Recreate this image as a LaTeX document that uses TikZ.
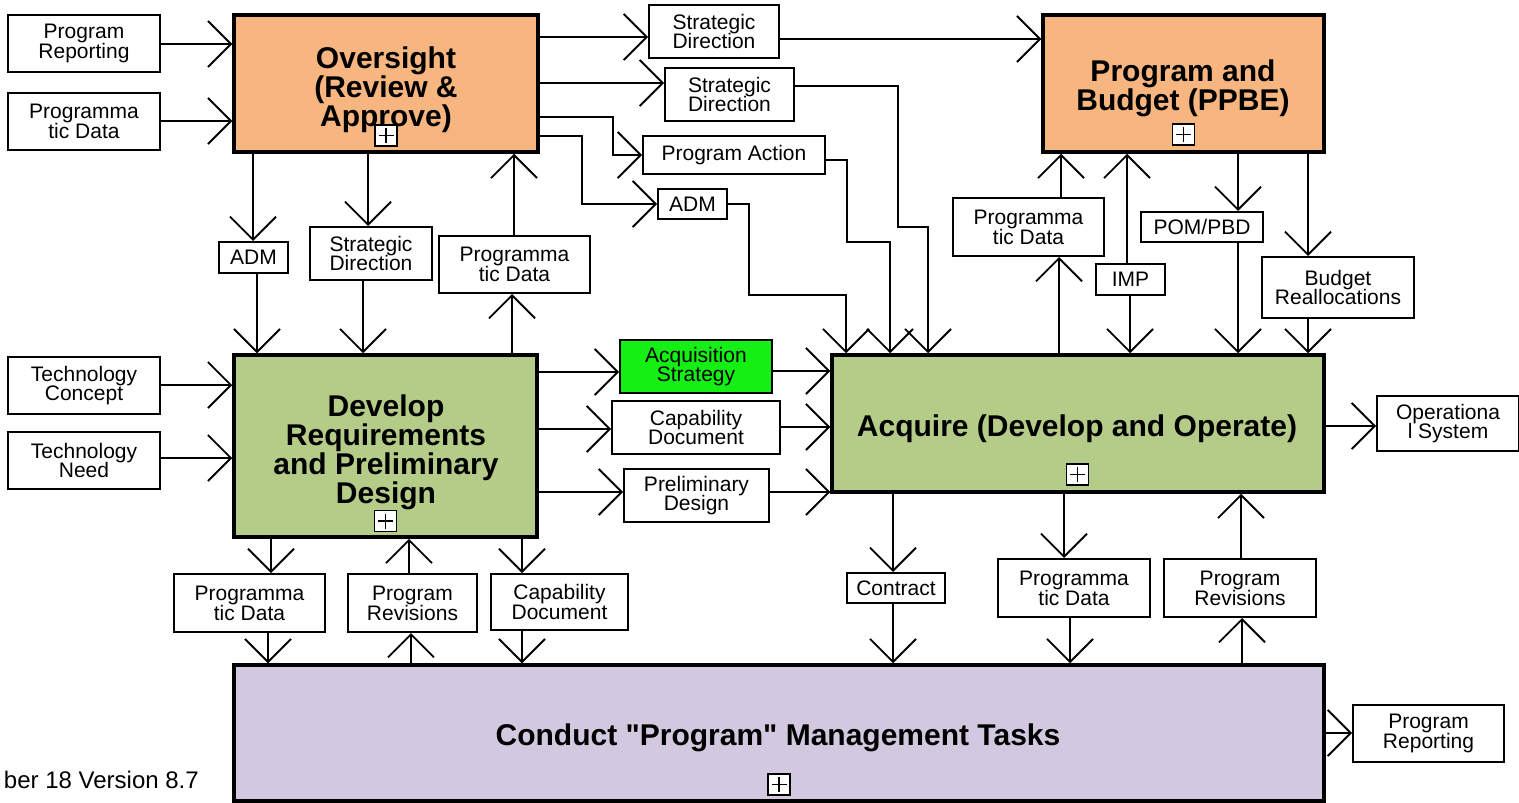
\documentclass[tikz,border=0pt]{standalone}
\usepackage{fontspec}
\setmainfont{Liberation Sans}[Ligatures=TeXOff]
\usetikzlibrary{arrows.meta}
\definecolor{ovc}{RGB}{247,182,128}
\definecolor{devc}{RGB}{181,204,136}
\definecolor{conc}{RGB}{210,201,224}
\definecolor{asc}{RGB}{20,240,20}
\begin{document}
\begin{tikzpicture}[x=1pt,y=-1pt,
  box/.style={draw,line width=2pt,fill=white,inner sep=0pt,align=center,font=\fontsize{21}{19.8}\selectfont},
  mainbox/.style={draw,line width=3.5pt,inner sep=0pt},
  ttl/.style={align=center,font=\fontsize{30}{27}\selectfont\bfseries,inner sep=0pt},
  arr/.style={line width=1.8pt,-{Straight Barb[length=23pt,width=46pt]}},
  plusbox/.style={draw,line width=1.5pt,fill=white,minimum width=22pt,minimum height=21pt,inner sep=0pt,
    path picture={\draw[line width=1.5pt] ([xshift=-7.5pt]path picture bounding box.center) -- ([xshift=7.5pt]path picture bounding box.center);
      \draw[line width=1.5pt] ([yshift=-7.5pt]path picture bounding box.center) -- ([yshift=7.5pt]path picture bounding box.center);}}]
\useasboundingbox (0,0) rectangle (1519,803);

% main boxes
\node[mainbox,fill=ovc,minimum width=304pt,minimum height=137pt] (ov) at (386,83.5) {};
\node[mainbox,fill=ovc,minimum width=281pt,minimum height=137pt] (ppbe) at (1183.5,83.5) {};
\node[mainbox,fill=devc,minimum width=303pt,minimum height=182pt] (dev) at (385.5,446) {};
\node[mainbox,fill=devc,minimum width=492pt,minimum height=137pt] (acq) at (1078,423.5) {};
\node[mainbox,fill=conc,minimum width=1090pt,minimum height=136pt] (cond) at (779,733) {};

\node[ttl] (ovt) at (386,90) {Oversight\\(Review \&\\Approve)};
\node[ttl] (ppbet) at (1183,88) {Program and\\Budget (PPBE)};
\node[ttl] (devt) at (386,452) {Develop\\Requirements\\and Preliminary\\Design};
\node[ttl] (acqt) at (1077,429) {Acquire (Develop and Operate)};
\node[ttl] (condt) at (778,738) {Conduct "Program" Management Tasks};

\node[plusbox] (p1) at (386,135.5) {};
\node[plusbox] (p2) at (1183.5,134.5) {};
\node[plusbox] (p3) at (385.5,521) {};
\node[plusbox] (p4) at (1077.5,474.5) {};
\node[plusbox] (p5) at (779,784.5) {};

% small boxes
\node[box,minimum width=152pt,minimum height=57pt] (pr1) at (84,43.5) {Program\\Reporting};
\node[box,minimum width=152pt,minimum height=57pt] (pd1) at (84,121.5) {Programma\\tic Data};
\node[box,minimum width=130pt,minimum height=53pt] (sd1) at (714,31.5) {Strategic\\Direction};
\node[box,minimum width=129pt,minimum height=53pt] (sd2) at (729.5,94.5) {Strategic\\Direction};
\node[box,minimum width=182pt,minimum height=38pt] (pa) at (734,155) {Program Action};
\node[box,minimum width=69pt,minimum height=30pt] (adm1) at (692.5,204) {ADM};
\node[box,minimum width=69pt,minimum height=31pt] (adm2) at (253.5,257.5) {ADM};
\node[box,minimum width=122pt,minimum height=53pt] (sd3) at (371,253.5) {Strategic\\Direction};
\node[box,minimum width=151pt,minimum height=57pt] (pd2) at (514.5,264.5) {Programma\\tic Data};
\node[box,minimum width=151pt,minimum height=58pt] (pd3) at (1028.5,227) {Programma\\tic Data};
\node[box,minimum width=69pt,minimum height=31pt] (imp) at (1130.5,279.5) {IMP};
\node[box,minimum width=122pt,minimum height=30pt] (pom) at (1202,227) {POM/PBD};
\node[box,minimum width=152pt,minimum height=61pt] (bra) at (1338,287.5) {Budget\\Reallocations};
\node[box,minimum width=152pt,minimum height=57pt] (tc) at (84,385.5) {Technology\\Concept};
\node[box,minimum width=152pt,minimum height=57pt] (tn) at (84,460.5) {Technology\\Need};
\node[box,fill=asc,minimum width=152pt,minimum height=53pt] (as) at (696,366.5) {Acquisition\\Strategy};
\node[box,minimum width=168pt,minimum height=53pt] (cd1) at (696,427.5) {Capability\\Document};
\node[box,minimum width=145pt,minimum height=53pt] (pdes) at (696.5,495.5) {Preliminary\\Design};
\node[box,minimum width=142pt,minimum height=55pt] (os) at (1448,423.5) {Operationa\\l System};
\node[box,minimum width=151pt,minimum height=58pt] (pd4) at (249.5,603) {Programma\\tic Data};
\node[box,minimum width=129pt,minimum height=58pt] (rev1) at (412.5,603) {Program\\Revisions};
\node[box,minimum width=137pt,minimum height=56pt] (cd2) at (559.5,602) {Capability\\Document};
\node[box,minimum width=98pt,minimum height=30pt] (con) at (896,588) {Contract};
\node[box,minimum width=152pt,minimum height=58pt] (pd5) at (1074,588) {Programma\\tic Data};
\node[box,minimum width=152pt,minimum height=58pt] (rev2) at (1240,588) {Program\\Revisions};
\node[box,minimum width=151pt,minimum height=57pt] (pr2) at (1428.5,733.5) {Program\\Reporting};

\node[anchor=base east,inner sep=0pt,font=\fontsize{24}{24}\selectfont] (foot) at (199,788) {ber 18 Version 8.7};

% connectors
\draw[arr] (pr1.east |- 0,44) -- (ov.west |- 0,44);
\draw[arr] (pd1.east |- 0,121) -- (ov.west |- 0,121);
\draw[arr] (ov.east |- 0,37) -- (sd1.west |- 0,37);
\draw[arr] (sd1.east |- 0,39) -- (ppbe.west |- 0,39);
\draw[arr] (ov.east |- 0,83) -- (sd2.west |- 0,83);
\draw[arr] (sd2.east |- 0,86) -- (898,86) -- (898,227) -- (928,227) -- (acq.north -| 928,0);
\draw[arr] (ov.east |- 0,117) -- (613,117) -- (613,155) -- (pa.west);
\draw[arr] (pa.east |- 0,160) -- (847,160) -- (847,242) -- (890,242) -- (acq.north -| 890,0);
\draw[arr] (ov.east |- 0,136) -- (582,136) -- (582,204) -- (adm1.west);
\draw[arr] (adm1.east) -- (749,204) -- (749,295) -- (846,295) -- (acq.north -| 846,0);

\draw[arr] (ov.south -| 253,0) -- (adm2.north -| 253,0);
\draw[arr] (adm2.south -| 257,0) -- (dev.north -| 257,0);
\draw[arr] (ov.south -| 368,0) -- (sd3.north -| 368,0);
\draw[arr] (sd3.south -| 363,0) -- (dev.north -| 363,0);
\draw[arr] (dev.north -| 512,0) -- (pd2.south -| 512,0);
\draw[arr] (pd2.north -| 514,0) -- (ov.south -| 514,0);

\draw[arr] (tc.east |- 0,385) -- (dev.west |- 0,385);
\draw[arr] (tn.east |- 0,458) -- (dev.west |- 0,458);

\draw[arr] (dev.east |- 0,372) -- (as.west |- 0,372);
\draw[arr] (as.east |- 0,371) -- (acq.west |- 0,371);
\draw[arr] (dev.east |- 0,429) -- (cd1.west |- 0,429);
\draw[arr] (cd1.east |- 0,427) -- (acq.west |- 0,427);
\draw[arr] (dev.east |- 0,492) -- (pdes.west |- 0,492);
\draw[arr] (pdes.east |- 0,492) -- (acq.west |- 0,492);
\draw[arr] (acq.east |- 0,426) -- (os.west |- 0,426);

\draw[arr] (acq.north -| 1059,0) -- (pd3.south -| 1059,0);
\draw[arr] (pd3.north -| 1061,0) -- (ppbe.south -| 1061,0);
\draw[arr] (imp.north -| 1127,0) -- (ppbe.south -| 1127,0);
\draw[arr] (imp.south -| 1130,0) -- (acq.north -| 1130,0);
\draw[arr] (ppbe.south -| 1238,0) -- (pom.north -| 1238,0);
\draw[arr] (pom.south -| 1238,0) -- (acq.north -| 1238,0);
\draw[arr] (ppbe.south -| 1308,0) -- (bra.north -| 1308,0);
\draw[arr] (bra.south -| 1308,0) -- (acq.north -| 1308,0);

\draw[arr] (dev.south -| 271,0) -- (pd4.north -| 271,0);
\draw[arr] (pd4.south -| 268,0) -- (cond.north -| 268,0);
\draw[arr] (cond.north -| 411,0) -- (rev1.south -| 411,0);
\draw[arr] (rev1.north -| 409,0) -- (dev.south -| 409,0);
\draw[arr] (dev.south -| 522,0) -- (cd2.north -| 522,0);
\draw[arr] (cd2.south -| 522,0) -- (cond.north -| 522,0);

\draw[arr] (acq.south -| 893,0) -- (con.north -| 893,0);
\draw[arr] (con.south -| 893,0) -- (cond.north -| 893,0);
\draw[arr] (acq.south -| 1064,0) -- (pd5.north -| 1064,0);
\draw[arr] (pd5.south -| 1070,0) -- (cond.north -| 1070,0);
\draw[arr] (cond.north -| 1242,0) -- (rev2.south -| 1242,0);
\draw[arr] (rev2.north -| 1241,0) -- (acq.south -| 1241,0);
\draw[arr] (cond.east |- 0,733) -- (pr2.west |- 0,733);
\end{tikzpicture}
\end{document}
